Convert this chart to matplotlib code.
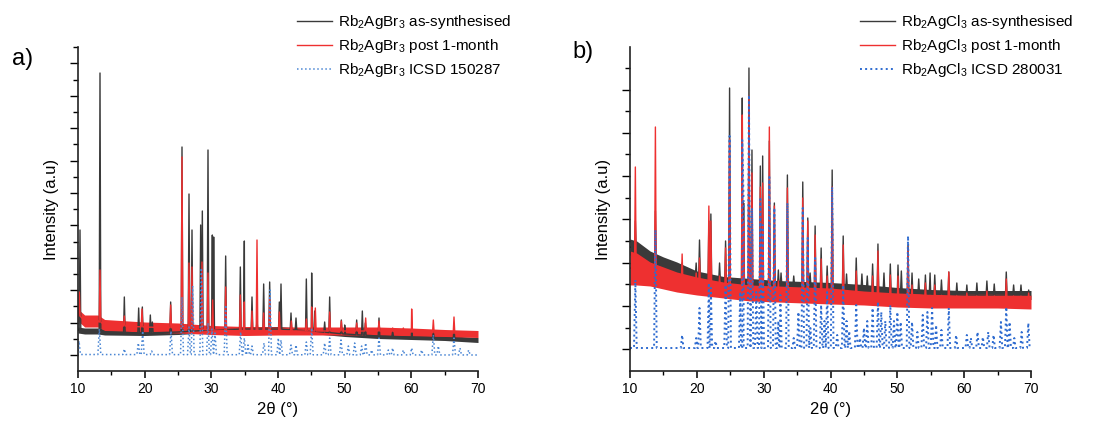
import numpy as np
import matplotlib
matplotlib.use("Agg")
from matplotlib import pyplot as plt
from matplotlib.ticker import MultipleLocator, FixedLocator

plt.rcParams['font.family'] = ['Liberation Sans', 'DejaVu Sans']
plt.rcParams['mathtext.fontset'] = 'custom'
plt.rcParams['mathtext.rm'] = 'Liberation Sans'
plt.rcParams['mathtext.it'] = 'Liberation Sans:italic'

# ---------------- panel a) Rb2AgBr3 ----------------
# background of the measured patterns (2theta, intensity a.u., half width of the noise band)
a_black_bg_x = np.array([10, 11, 13, 14, 20, 25, 30, 35, 40, 45, 50, 55, 60, 65, 70])
a_black_bg_y = np.array([41, 40, 40, 39, 38, 39, 41, 42, 42, 40, 37, 35, 34, 33, 31])
a_black_bg_w = np.array([3, 3, 3, 3, 2.5, 2.5, 2.5, 2.5, 2.5, 2.5, 2.5, 2.5, 2.5, 2.5, 2.5])
a_red_bg_x = np.array([10, 11, 13, 14, 20, 25, 30, 35, 40, 45, 50, 55, 60, 65, 70])
a_red_bg_y = np.array([56, 50, 50, 46, 44, 43, 41, 40, 40, 40, 40, 40, 39, 38, 37])
a_red_bg_w = np.array([6, 6, 6, 5.5, 5, 5, 4.5, 4.5, 4, 4, 4, 4, 4, 3.5, 3.5])
a_blue_bg_x = np.array([10, 70])
a_blue_bg_y = np.array([16.5, 16.0])

a_black_pk_x = np.array([10.3, 13.3, 16.95, 19.1, 19.65, 20.85, 21.15, 23.9, 25.6, 26.65, 27.1, 28.4,
                         28.65, 29.5, 30.15, 30.35, 32.15, 34.35, 34.95, 36.1, 36.85, 37.85, 38.75,
                         40.2, 40.45, 41.95, 42.7, 44.25, 45.05, 45.5, 47.0, 47.75, 49.5, 50.0, 51.8,
                         52.65, 53.1, 55.15, 57.2, 60.05, 63.3, 66.4])
a_black_pk_y = np.array([141, 298, 74, 63, 64, 56, 49, 69, 224, 177, 141, 146,
                         160, 221, 136, 134, 115, 104, 130, 74, 50, 87, 89,
                         69, 87, 58, 53, 92, 98, 60, 49, 74, 51, 46, 51,
                         60, 48, 53, 40, 42, 40, 42])
a_red_pk_x = np.array([10.2, 13.3, 16.95, 19.6, 23.9, 25.6, 26.65, 27.1, 28.6, 29.5, 30.2, 32.15,
                       34.35, 34.95, 36.1, 36.85, 37.85, 38.75, 40.2, 42.0, 44.25, 45.05, 45.6,
                       47.75, 49.5, 51.8, 53.15, 55.15, 57.2, 58.8, 60.05, 63.3, 66.4])
a_red_pk_y = np.array([79, 101, 55, 62, 66, 214, 108, 104, 109, 98, 71, 84,
                       76, 69, 60, 131, 58, 74, 59, 50, 52, 64, 63,
                       59, 50, 48, 53, 50, 43, 43, 62, 51, 54])
a_blue_pk_x = np.array([10.15, 13.2, 16.95, 19.05, 19.7, 21.05, 23.95, 25.6, 26.65, 27.2, 28.5, 29.5,
                        30.1, 30.55, 32.15, 34.4, 34.95, 35.5, 36.1, 37.9, 38.8, 40.05, 40.45, 41.95,
                        42.7, 44.25, 45.05, 47.0, 47.75, 49.45, 50.55, 51.5, 52.55, 53.15, 54.05,
                        55.15, 56.55, 57.2, 58.8, 60.05, 61.55, 63.3, 64.05, 66.4, 67.3, 68.6])
a_blue_pk_y = np.array([30, 42, 22, 28, 40, 20, 40, 74, 44, 85, 103, 48,
                        42, 38, 66, 39, 33, 26, 25, 28, 81, 33, 31, 26,
                        26, 29, 43, 28, 33, 31, 25, 28, 25, 28, 21,
                        33, 21, 23, 21, 23, 21, 36, 25, 33, 23, 21])

# ---------------- panel b) Rb2AgCl3 ----------------
b_bg_x = np.array([10, 11, 13, 15, 17, 20, 24, 28, 32, 36, 40, 45, 50, 55, 60, 65, 70])
b_black_bg_y = np.array([124, 122, 113, 108, 103, 95, 90, 88, 86, 85, 84, 82, 79, 77, 76, 76, 76])
b_black_bg_w = np.array([8, 8, 7, 6, 6, 5, 4.5, 4.5, 4.5, 4.5, 4.5, 4.5, 4.5, 4.5, 4.5, 4.5, 4.5])
b_red_bg_y = np.array([103, 102, 97, 93, 89, 85, 81, 78, 77, 76, 75, 73, 71, 70, 70, 70, 69])
b_red_bg_w = np.array([17, 16, 12, 11, 10, 9, 8, 8, 8, 8, 8, 7, 7, 7, 7, 7, 7])
b_blue_bg_x = np.array([10, 70])
b_blue_bg_y = np.array([23, 23])

b_black_pk_x = np.array([10.8, 13.8, 17.8, 19.9, 20.4, 21.8, 22.1, 23.4, 24.3, 24.9, 26.8, 27.0, 27.8,
                         28.25, 29.5, 29.85, 30.85, 31.6, 32.2, 32.6, 33.55, 34.5, 35.85, 36.6, 36.95,
                         37.7, 38.6, 39.5, 40.25, 41.9, 42.4, 43.85, 44.7, 45.5, 46.3, 47.1, 48.0,
                         48.95, 50.1, 50.6, 51.6, 52.2, 53.2, 54.2, 54.9, 55.6, 56.6, 57.7, 58.9,
                         60.4, 61.9, 63.4, 64.5, 66.3, 67.4, 68.5, 69.65])
b_black_pk_y = np.array([150, 160, 108, 108, 131, 150, 157, 108, 130, 283, 273, 168, 303,
                         221, 205, 215, 230, 168, 101, 98, 196, 95, 189, 153, 98,
                         145, 123, 105, 201, 135, 97, 113, 97, 95, 107, 127, 98,
                         107, 106, 100, 126, 98, 92, 96, 98, 96, 91, 99, 88,
                         86, 88, 90, 87, 99, 86, 86, 81])
b_red_pk_x = np.array([10.8, 13.8, 17.8, 19.9, 20.4, 21.8, 22.1, 23.4, 24.3, 24.9, 26.8, 27.0, 27.8,
                       28.25, 29.5, 29.85, 30.85, 31.6, 32.2, 33.55, 35.85, 36.6, 37.7, 38.6, 39.5,
                       40.25, 41.9, 43.85, 46.3, 47.1, 48.95, 50.1, 51.6, 52.2, 54.2, 55.6, 57.7,
                       60.4, 63.4, 66.3, 69.65])
b_red_pk_y = np.array([204, 244, 117, 98, 113, 165, 150, 95, 123, 232, 256, 150, 275,
                       198, 184, 188, 244, 165, 90, 183, 173, 150, 136, 112, 95,
                       184, 126, 100, 95, 120, 96, 95, 124, 86, 88, 86, 99,
                       78, 80, 92, 78])
b_blue_pk_x = np.array([10.8, 13.8, 17.8, 19.9, 20.4, 21.8, 22.1, 22.8, 24.3, 24.9, 26.5, 26.8, 27.0,
                        27.8, 28.25, 28.9, 29.5, 29.85, 30.85, 31.6, 32.2, 32.5, 33.55, 34.5, 35.2,
                        35.85, 36.6, 37.0, 37.7, 38.6, 39.1, 39.5, 40.25, 41.0, 41.9, 42.4, 42.8,
                        43.85, 44.4, 45.0, 45.5, 46.3, 47.1, 47.6, 48.2, 48.95, 49.5, 50.0, 50.5,
                        51.6, 52.2, 53.0, 53.8, 54.5, 55.2, 55.8, 56.6, 57.7, 58.8, 60.4, 61.0,
                        62.0, 62.8, 63.6, 64.4, 65.5, 66.3, 66.8, 67.5, 68.6, 69.6])
b_blue_pk_y = np.array([91, 141, 36, 33, 63, 88, 83, 30, 86, 235, 79, 231, 168,
                        276, 163, 79, 172, 146, 194, 163, 50, 76, 168, 33, 59,
                        163, 133, 43, 113, 66, 50, 79, 184, 36, 86, 50, 40,
                        66, 33, 43, 50, 63, 69, 59, 50, 66, 50, 59, 49,
                        135, 49, 39, 56, 59, 63, 46, 41, 63, 36, 36, 33,
                        39, 34, 39, 36, 49, 64, 49, 33, 39, 48])

labels_a = [r'Rb$_2$AgBr$_3$ as-synthesised', r'Rb$_2$AgBr$_3$ post 1-month', r'Rb$_2$AgBr$_3$ ICSD 150287']
labels_b = [r'Rb$_2$AgCl$_3$ as-synthesised', r'Rb$_2$AgCl$_3$ post 1-month', r'Rb$_2$AgCl$_3$ ICSD 280031']

BLACK = '#3a3a3a'
RED = '#ee3030'


def trace(bg_x, bg_y, pk_x, pk_y, hw):
    # polyline: background points plus a narrow triangle for every peak
    base = np.interp(pk_x, bg_x, bg_y)
    xs = np.concatenate([bg_x, pk_x - hw, pk_x, pk_x + hw])
    ys = np.concatenate([bg_y, base, pk_y, base])
    order = np.argsort(xs, kind='stable')
    return xs[order], ys[order]


def style_axis(ax, yticks_major, yticks_minor):
    ax.set_xlim(10, 70)
    ax.set_ylim(0, 324)
    ax.spines['top'].set_visible(False)
    ax.spines['right'].set_visible(False)
    for s in ('left', 'bottom'):
        ax.spines[s].set_linewidth(1.2)
        ax.spines[s].set_color('#222222')
    ax.xaxis.set_major_locator(MultipleLocator(10))
    ax.xaxis.set_minor_locator(MultipleLocator(5))
    ax.yaxis.set_major_locator(FixedLocator(yticks_major))
    ax.yaxis.set_minor_locator(FixedLocator(yticks_minor))
    ax.tick_params(axis='x', which='major', direction='out', length=5, width=1.1, labelsize=10, pad=3)
    ax.tick_params(axis='x', which='minor', direction='out', length=3, width=1.0)
    ax.tick_params(axis='y', which='major', direction='out', length=6, width=1.0, labelleft=False)
    ax.tick_params(axis='y', which='minor', direction='out', length=3.5, width=1.0)
    ax.set_xlabel('2θ (°)', fontsize=12, labelpad=4)
    ax.set_ylabel('Intensity (a.u)', fontsize=12, labelpad=7)


fig = plt.figure(figsize=(11.05, 4.21), dpi=100)
ax_a = fig.add_axes([78 / 1105, 50 / 421, 400 / 1105, 324 / 421])
ax_b = fig.add_axes([630 / 1105, 50 / 421, 401 / 1105, 324 / 421])

# panel a
ax_a.fill_between(a_black_bg_x, a_black_bg_y - a_black_bg_w, a_black_bg_y + a_black_bg_w, color=BLACK, lw=0)
x, y = trace(a_black_bg_x, a_black_bg_y, a_black_pk_x, a_black_pk_y, 0.12)
ax_a.plot(x, y, color=BLACK, lw=1.0, label=labels_a[0])
ax_a.fill_between(a_red_bg_x, a_red_bg_y - a_red_bg_w, a_red_bg_y + a_red_bg_w, color=RED, lw=0)
x, y = trace(a_red_bg_x, a_red_bg_y, a_red_pk_x, a_red_pk_y, 0.12)
ax_a.plot(x, y, color=RED, lw=1.0, label=labels_a[1])
x, y = trace(a_blue_bg_x, a_blue_bg_y, a_blue_pk_x, a_blue_pk_y, 0.22)
ax_a.plot(x, y, color='#4a86d4', lw=1.1, ls=':', label=labels_a[2])
style_axis(ax_a, [16 + 32.4 * k for k in range(10)], [32.2 + 32.4 * k for k in range(10)])

# panel b
ax_b.fill_between(b_bg_x, b_black_bg_y - b_black_bg_w, b_black_bg_y + b_black_bg_w, color=BLACK, lw=0)
x, y = trace(b_bg_x, b_black_bg_y, b_black_pk_x, b_black_pk_y, 0.12)
ax_b.plot(x, y, color=BLACK, lw=1.0, label=labels_b[0])
ax_b.fill_between(b_bg_x, b_red_bg_y - b_red_bg_w, b_red_bg_y + b_red_bg_w, color=RED, lw=0)
x, y = trace(b_bg_x, b_red_bg_y, b_red_pk_x, b_red_pk_y, 0.12)
ax_b.plot(x, y, color=RED, lw=1.0, label=labels_b[1])
x, y = trace(b_blue_bg_x, b_blue_bg_y, b_blue_pk_x, b_blue_pk_y, 0.2)
ax_b.plot(x, y, color='#2e6bd0', lw=1.4, ls=':', label=labels_b[2])
style_axis(ax_b, [21.7 + 43.3 * k for k in range(8)], [43.35 + 43.3 * k for k in range(7)])

for ax, x0 in ((ax_a, 297), (ax_b, 860)):
    ax.legend(loc='upper left', bbox_to_anchor=(x0 / 1105, 1 - 13 / 421), bbox_transform=fig.transFigure,
              frameon=False, fontsize=11, handlelength=2.3, handletextpad=0.4, labelspacing=0.4,
              borderpad=0, borderaxespad=0)

fig.text(12 / 1105, 1 - 59 / 421, 'a)', fontsize=17, va='center', ha='left')
fig.text(572 / 1105, 1 - 52 / 421, 'b)', fontsize=17, va='center', ha='left')

fig.savefig('out.png', dpi=100)
